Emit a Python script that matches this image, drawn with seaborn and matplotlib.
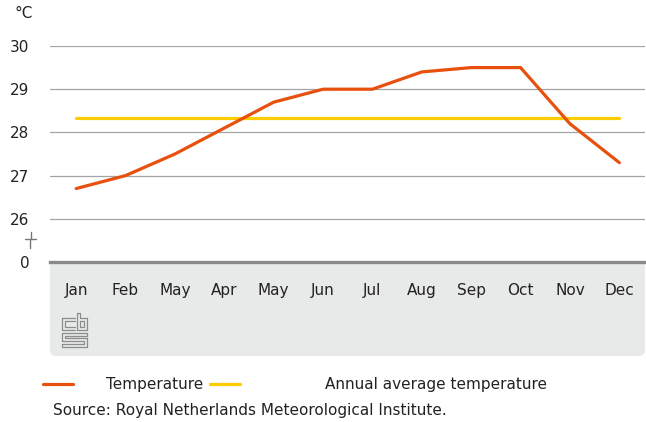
import numpy as np
import pandas as pd
import matplotlib
matplotlib.use("Agg")
import matplotlib.pyplot as plt
import seaborn as sns
from matplotlib.patches import FancyBboxPatch
from matplotlib.lines import Line2D

# --- data
months = ["Jan", "Feb", "May", "Apr", "May", "Jun", "Jul", "Aug", "Sep", "Oct", "Nov", "Dec"]
temperature = [26.7, 27.0, 27.5, 28.1, 28.7, 29.0, 29.0, 29.4, 29.5, 29.5, 28.2, 27.3]
annual_average = 28.33
y_ticks = [25, 26, 27, 28, 29, 30]
y_labels = ["0", "26", "27", "28", "29", "30"]

ORANGE = "#e8500e"
YELLOW = "#ffcc00"
TEXT = "#222222"
FS = 11

sns.set_style("white")
plt.rcParams["font.family"] = ["DejaVu Sans"]

W, H = 646, 422
fig = plt.figure(figsize=(W / 100, H / 100), dpi=100)


def px(x, y):
    return x / W, 1 - y / H


# axes: x 50..645, y 46 (30) .. 262 (0)
ax = fig.add_axes([50 / W, 1 - 262 / H, 595 / W, 216 / H])

df = pd.DataFrame({"pos": np.arange(len(months)), "temp": temperature})
sns.lineplot(data=df, x="pos", y="temp", color=ORANGE, lw=2.3, ax=ax, zorder=3)
avg = pd.DataFrame({"pos": [0, len(months) - 1], "temp": [annual_average] * 2})
sns.lineplot(data=avg, x="pos", y="temp", color=YELLOW, lw=2.3, ax=ax, zorder=2)

ax.set_xlim(-0.53, 11.52)
ax.set_ylim(25, 30)
ax.set_xlabel("")
ax.set_ylabel("")
ax.set_xticks(df["pos"])
ax.set_xticklabels(months, fontsize=FS, color=TEXT)
ax.set_yticks(y_ticks)
ax.set_yticklabels(y_labels, fontsize=FS, color=TEXT)
ax.tick_params(axis="y", length=0, pad=15)
ax.tick_params(axis="x", length=5, width=1, color="#b0b0b0", pad=10, direction="out")

for v in y_ticks[1:]:
    ax.axhline(v, color="#a4a4a4", lw=0.9, zorder=1)

for s in ["top", "right", "left"]:
    ax.spines[s].set_visible(False)
ax.spines["bottom"].set_color("#8a8a8a")
ax.spines["bottom"].set_linewidth(2.4)
ax.set_facecolor("white")

# grey panel under the x axis
x0, y0 = px(50, 356)
panel = FancyBboxPatch((x0, y0), 595 / W, (356 - 200) / H,
                       boxstyle="round,pad=0,rounding_size=0.012",
                       transform=fig.transFigure, facecolor="#e8e9e9",
                       edgecolor="none", zorder=-1)
fig.patches.append(panel)

# unit label
fig.text(*px(15, 13), "°C", fontsize=FS, color=TEXT, va="center")

# axis break mark
for seg in [[(31, 232), (31, 239)], [(25, 239.5), (36, 239.5)], [(30, 240), (30, 248)]]:
    xs, ys = zip(*[px(a, b) for a, b in seg])
    fig.add_artist(Line2D(xs, ys, color="#777777", lw=1))

# simplified cbs logo
logo = [
    # c
    [(75, 318), (62, 318), (62, 330), (75, 330)],
    [(75, 321), (65, 321), (65, 327), (75, 327)],
    # b
    [(77, 313), (77, 330), (87, 330), (87, 318), (80, 318), (80, 313), (77, 313)],
    [(80, 321), (84, 321), (84, 327), (80, 327), (80, 321)],
    # s
    [(87, 333), (62, 333), (62, 341), (84, 341), (84, 344), (62, 344), (62, 347),
     (87, 347), (87, 338), (65, 338), (65, 336), (87, 336), (87, 333)],
]
for path in logo:
    xs, ys = zip(*[px(a, b) for a, b in path])
    fig.add_artist(Line2D(xs, ys, color="#8c8c8c", lw=0.9))

# legend
xs, ys = zip(px(43, 384), px(73, 384))
fig.add_artist(Line2D(xs, ys, color=ORANGE, lw=2.3))
fig.text(*px(106, 384), "Temperature", fontsize=FS, color=TEXT, va="center")
xs, ys = zip(px(210, 384), px(240, 384))
fig.add_artist(Line2D(xs, ys, color=YELLOW, lw=2.3))
fig.text(*px(325, 384), "Annual average temperature", fontsize=FS, color=TEXT, va="center")

fig.text(*px(53, 411), "Source: Royal Netherlands Meteorological Institute.",
         fontsize=FS, color=TEXT, va="center")

fig.savefig("out.png", dpi=100)
